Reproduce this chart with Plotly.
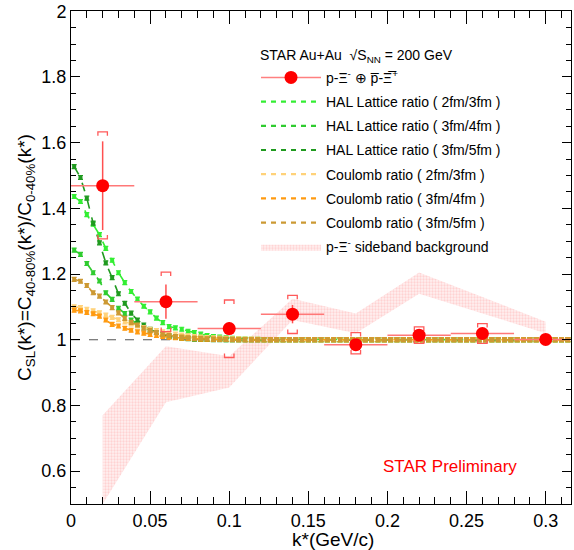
import plotly.graph_objects as go

# ---------------- data ----------------
k_data = [0.02, 0.06, 0.10, 0.14, 0.18, 0.22, 0.26, 0.30]
c_data = [1.469, 1.116, 1.034, 1.078, 0.985, 1.014, 1.019, 1.001]
stat_err = [0.135, 0.052, 0.02, 0.028, 0.015, 0.01, 0.01, 0.005]
k_err = [0.02, 0.02, 0.02, 0.02, 0.02, 0.02, 0.02, 0.02]
sys_hi = [1.633, 1.206, 1.121, 1.135, 1.022, 1.039, 1.049, 1.006]
sys_lo = [1.307, 1.025, 0.946, 1.019, 0.957, 0.989, 0.989, 0.996]

k_sb = [0.02, 0.06, 0.10, 0.14, 0.18, 0.22, 0.26, 0.30]
sb_lo = [0.50, 0.81, 0.855, 1.06, 1.02, 1.14, 1.08, 1.02]
sb_hi = [0.77, 0.98, 0.95, 1.125, 1.08, 1.205, 1.13, 1.055]

k_th = [0.002, 0.006, 0.010, 0.014, 0.018, 0.022, 0.026, 0.030, 0.034, 0.038,
        0.042, 0.046, 0.050, 0.054, 0.058, 0.062, 0.066, 0.070, 0.074, 0.078,
        0.082, 0.086, 0.090, 0.094, 0.098, 0.102, 0.106, 0.110, 0.114, 0.118,
        0.122, 0.126, 0.130, 0.134, 0.138, 0.142, 0.146, 0.150, 0.154, 0.158,
        0.162, 0.166, 0.170, 0.174, 0.178, 0.182, 0.186, 0.190, 0.194, 0.198,
        0.202, 0.206, 0.210, 0.214, 0.218, 0.222, 0.226, 0.230, 0.234, 0.238,
        0.242, 0.246, 0.250, 0.254, 0.258, 0.262, 0.266, 0.270, 0.274, 0.278,
        0.282, 0.286, 0.290, 0.294, 0.298, 0.302, 0.306, 0.310, 0.314]

tail_flat = [1.0, 1.0, 1.0, 1.0, 1.0, 1.0, 1.0, 1.0, 1.0, 1.0,
             1.0, 1.0, 1.0, 1.0, 1.0, 1.0, 1.0, 1.0, 1.0, 1.0,
             1.0, 1.0, 1.0, 1.0, 1.0, 1.0, 1.0, 1.0, 1.0, 1.0,
             1.0, 1.0, 1.0, 1.0, 1.0, 1.0, 1.0, 1.0, 1.0, 1.0,
             1.0, 1.0, 1.0, 1.0, 1.0, 1.0, 1.0, 1.0, 1.0]

hal_23_head = [1.436, 1.421, 1.381, 1.352, 1.320, 1.278, 1.242, 1.204, 1.174, 1.147,
               1.124, 1.102, 1.085, 1.066, 1.052, 1.040, 1.036, 1.032, 1.026, 1.022,
               1.017, 1.013, 1.010, 1.008, 1.006, 1.004, 1.003, 1.002, 1.001, 1.001]
hal_34_head = [1.273, 1.260, 1.232, 1.204, 1.179, 1.143, 1.123, 1.096, 1.080, 1.060,
               1.049, 1.038, 1.030, 1.022, 1.017, 1.012, 1.009, 1.006, 1.004, 1.003,
               1.002, 1.002, 1.001, 1.001, 1.0, 1.0, 1.0, 1.0, 1.0, 1.0]
hal_35_head = [1.527, 1.494, 1.431, 1.355, 1.295, 1.234, 1.189, 1.140, 1.111, 1.081,
               1.060, 1.045, 1.032, 1.022, 1.015, 1.010, 1.007, 1.005, 1.003, 1.002,
               1.001, 1.001, 1.0, 1.0, 1.0, 1.0, 1.0, 1.0, 1.0, 1.0]
coul_23_head = [1.100, 1.098, 1.093, 1.088, 1.082, 1.075, 1.068, 1.061, 1.054, 1.048,
                1.042, 1.037, 1.032, 1.028, 1.024, 1.020, 1.017, 1.014, 1.012, 1.010,
                1.008, 1.007, 1.006, 1.005, 1.004, 1.003, 1.003, 1.002, 1.002, 1.001]
coul_34_head = [1.090, 1.088, 1.083, 1.079, 1.072, 1.060, 1.047, 1.042, 1.035, 1.029,
                1.024, 1.020, 1.016, 1.013, 1.010, 1.008, 1.006, 1.005, 1.004, 1.003,
                1.002, 1.002, 1.001, 1.001, 1.001, 1.0, 1.0, 1.0, 1.0, 1.0]
coul_35_head = [1.184, 1.178, 1.165, 1.143, 1.133, 1.115, 1.098, 1.082, 1.065, 1.053,
                1.045, 1.035, 1.028, 1.022, 1.017, 1.013, 1.010, 1.008, 1.006, 1.005,
                1.004, 1.003, 1.002, 1.002, 1.001, 1.001, 1.0, 1.0, 1.0, 1.0]

theory_names = ["HAL Lattice ratio ( 2fm/3fm )", "HAL Lattice ratio ( 3fm/4fm )",
                "HAL Lattice ratio ( 3fm/5fm )", "Coulomb ratio ( 2fm/3fm )",
                "Coulomb ratio ( 3fm/4fm )", "Coulomb ratio ( 3fm/5fm )"]
theory_vals = [hal_23_head + tail_flat, hal_34_head + tail_flat, hal_35_head + tail_flat,
               coul_23_head + tail_flat, coul_34_head + tail_flat, coul_35_head + tail_flat]
theory_colors = ["#33ee33", "#2fcc2f", "#1f9a1f", "#ffd27a", "#ff9a10", "#cc9933"]

x_ticks = [0, 0.05, 0.1, 0.15, 0.2, 0.25, 0.3]
x_ticktext = ["0", "0.05", "0.1", "0.15", "0.2", "0.25", "0.3"]
y_ticks = [0.6, 0.8, 1.0, 1.2, 1.4, 1.6, 1.8, 2.0]
y_ticktext = ["0.6", "0.8", "1", "1.2", "1.4", "1.6", "1.8", "2"]

FONT = "Liberation Sans, Arial, Helvetica, sans-serif"

fig = go.Figure()

# legend-only entries (drawn first so they order in the legend)
fig.add_trace(go.Scatter(
    x=[None], y=[None], mode="lines+markers", legendrank=1,
    name="p-Ξ<sup>-</sup> ⊕ p̅-Ξ̅<sup>+</sup>",
    line=dict(color="#ff8080", width=1.5),
    marker=dict(color="#ff0000", size=13)))
for i, (nm, col) in enumerate(zip(theory_names, theory_colors)):
    fig.add_trace(go.Scatter(x=[None], y=[None], mode="lines", name=nm, legendrank=2 + i,
                             line=dict(color=col, width=2.2, dash="5px,5px")))

# sideband band
fig.add_trace(go.Scatter(
    x=k_sb + k_sb[::-1], y=sb_hi + sb_lo[::-1],
    fill="toself", mode="lines", line=dict(width=0),
    fillcolor="rgba(255,170,170,0.3)",
    fillpattern=dict(shape=".", fgcolor="rgba(255,120,120,0.5)", bgcolor="rgba(255,228,228,0.55)",
                     size=3, solidity=0.45),
    name="p-Ξ<sup>-</sup> sideband background", legendrank=9, hoverinfo="skip"))

# reference dashed line at 1
fig.add_trace(go.Scatter(x=[0, 0.316], y=[1, 1], mode="lines",
                         line=dict(color="#555555", width=1, dash="dash"),
                         showlegend=False, hoverinfo="skip"))

# theory curves
for nm, vals, col in zip(theory_names, theory_vals, theory_colors):
    fig.add_trace(go.Scatter(
        x=k_th, y=vals, mode="lines+markers", name=nm, showlegend=False,
        line=dict(color=col, width=1.6, dash="dash"),
        marker=dict(color=col, size=4, symbol="square"),
        error_y=dict(type="constant", value=0.006, color=col, thickness=1.2, width=2.5)))

# systematic brackets
bx, by = [], []
w = 0.003
tick = 0.012
for x, hi, lo in zip(k_data, sys_hi, sys_lo):
    bx += [x - w, x - w, x + w, x + w, None]
    by += [hi - tick, hi, hi, hi - tick, None]
    bx += [x - w, x - w, x + w, x + w, None]
    by += [lo + tick, lo, lo, lo + tick, None]
fig.add_trace(go.Scatter(x=bx, y=by, mode="lines", line=dict(color="#ff5a5a", width=1.3),
                         showlegend=False, hoverinfo="skip"))

# data points
fig.add_trace(go.Scatter(
    x=k_data, y=c_data, mode="markers", showlegend=False,
    marker=dict(color="#ff0000", size=13, symbol="circle"),
    error_x=dict(type="data", array=k_err, color="#ff7878", thickness=1.5, width=0),
    error_y=dict(type="data", array=stat_err, color="#ff5050", thickness=1.5, width=0)))

for i in range(len(fig.data)):
    fig.data[i].legendgroup = "g%d" % i

fig.update_layout(
    width=574, height=550,
    margin=dict(l=71, r=2, t=9, b=46),
    paper_bgcolor="white", plot_bgcolor="white",
    font=dict(family=FONT, color="black"),
    showlegend=True,
    legend=dict(x=0.37, y=0.897, xanchor="left", yanchor="top",
                bgcolor="rgba(0,0,0,0)", font=dict(size=14, family=FONT),
                itemwidth=60, tracegroupgap=3, traceorder="grouped"),
)
fig.add_annotation(text="STAR Au+Au  √S<sub>NN</sub> = 200 GeV",
                   x=(258 - 71) / 501, y=1 - (54 - 9) / 495, xref="paper", yref="paper",
                   xanchor="left", yanchor="middle", showarrow=False,
                   font=dict(size=14, family=FONT))
fig.add_annotation(text="STAR Preliminary", x=0.2395, y=0.613, xref="x", yref="y",
                   showarrow=False, font=dict(size=17, color="#ff0000", family=FONT))
# x-axis title placed like the reference
fig.add_annotation(text="k*(GeV/c)", x=(334 - 71) / 501, y=1 - (540 - 9) / 495,
                   xref="paper", yref="paper", xanchor="center", yanchor="middle",
                   showarrow=False, font=dict(size=19, family=FONT))

fig.update_xaxes(range=[0, 0.316], showline=True, linecolor="black", linewidth=1, mirror="ticks",
                 ticks="inside", ticklen=13, tickwidth=1, tickcolor="black",
                 tickvals=x_ticks, ticktext=x_ticktext, tickfont=dict(size=18),
                 ticklabeloverflow="allow",
                 minor=dict(dtick=0.01, ticks="inside", ticklen=7, tickcolor="black"),
                 showgrid=False, zeroline=False)
fig.update_yaxes(range=[0.5, 2.0008], showline=True, linecolor="black", linewidth=1, mirror="ticks",
                 ticks="inside", ticklen=9, tickwidth=1, tickcolor="black",
                 tickvals=y_ticks, ticktext=y_ticktext, tickfont=dict(size=18),
                 ticklabeloverflow="allow",
                 minor=dict(dtick=0.05, ticks="inside", ticklen=5, tickcolor="black"),
                 showgrid=False, zeroline=False,
                 title=dict(text="C<sub>SL</sub>(k*)=C<sub>40-80%</sub>(k*)/C<sub>0-40%</sub>(k*)",
                            font=dict(size=19), standoff=4))

fig.write_html("out.html")
